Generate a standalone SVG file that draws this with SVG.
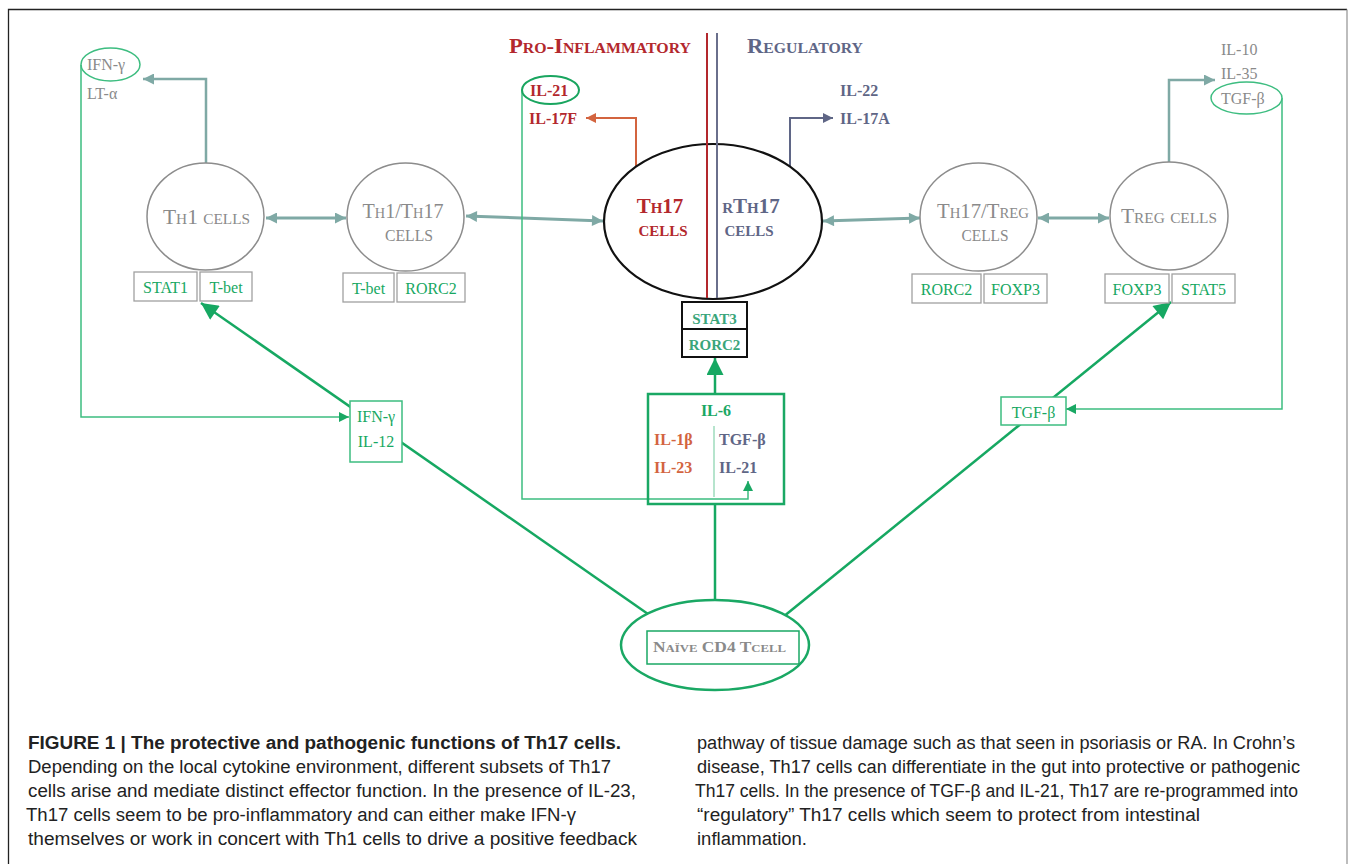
<svg xmlns="http://www.w3.org/2000/svg" width="1354" height="864" viewBox="0 0 1354 864">
<defs>
<style>
.bg{fill:#ffffff}
.cell{fill:#ffffff;stroke:#8c8c8c;stroke-width:1.5}
.celltxt{font-family:"Liberation Serif","DejaVu Serif",serif;fill:#8a8a8a;font-variant:small-caps;font-size:21px;text-anchor:middle}
.tf{fill:#ffffff;stroke:#a0a0a0;stroke-width:1.3}
.tftxt{font-family:"Liberation Serif","DejaVu Serif",serif;fill:#17a862;font-size:16px;text-anchor:middle}
.cyto{font-family:"Liberation Serif","DejaVu Serif",serif;fill:#8a8a8a;font-size:16px}
.bold{font-family:"Liberation Serif","DejaVu Serif",serif;font-weight:bold;font-size:16px}
.red{fill:#b3282d}
.orange{fill:#d3643f}
.blue{fill:#5f6686}
.green{fill:#1aa864}
.teal{stroke:#7fa9a5;fill:none}
.gthick{stroke:#16a862;stroke-width:2.5;fill:none}
.gthin{stroke:#3dbd80;stroke-width:1.5;fill:none}
.cap{font-family:"Liberation Sans","Arial",sans-serif;font-size:18px;fill:#222222}
</style>
<marker id="tealHead" viewBox="0 0 10 10" refX="10" refY="5" markerWidth="13" markerHeight="11" markerUnits="userSpaceOnUse" orient="auto-start-reverse"><path d="M0,0L10,5L0,10z" fill="#7fa9a5"/></marker>
<marker id="greenBig" viewBox="0 0 10 10" refX="10" refY="5" markerWidth="20" markerHeight="17" markerUnits="userSpaceOnUse" orient="auto"><path d="M0,0L10,5L0,10z" fill="#16a862"/></marker>
<marker id="greenSmall" viewBox="0 0 10 10" refX="10" refY="5" markerWidth="11" markerHeight="10" markerUnits="userSpaceOnUse" orient="auto"><path d="M0,0L10,5L0,10z" fill="#1aa864"/></marker>
<marker id="orangeHead" viewBox="0 0 10 10" refX="10" refY="5" markerWidth="12" markerHeight="10" markerUnits="userSpaceOnUse" orient="auto"><path d="M0,0L10,5L0,10z" fill="#d3643f"/></marker>
<marker id="blueHead" viewBox="0 0 10 10" refX="10" refY="5" markerWidth="12" markerHeight="10" markerUnits="userSpaceOnUse" orient="auto"><path d="M0,0L10,5L0,10z" fill="#5f6686"/></marker>
</defs>
<rect class="bg" x="0" y="0" width="1354" height="864"/>
<g id="frame">
<path d="M8.5,880V9.5H1347" fill="none" stroke="#222222" stroke-width="1.3"/>
<path d="M1347,9.5V880" fill="none" stroke="#9a9a9a" stroke-width="1.3"/>
</g>

<g id="connectors">
<line class="teal" x1="266" y1="218" x2="346" y2="218" stroke-width="3" marker-start="url(#tealHead)" marker-end="url(#tealHead)"/>
<line class="teal" x1="466" y1="216" x2="603" y2="221" stroke-width="3" marker-start="url(#tealHead)" marker-end="url(#tealHead)"/>
<line class="teal" x1="823" y1="221" x2="920" y2="218" stroke-width="3" marker-start="url(#tealHead)" marker-end="url(#tealHead)"/>
<line class="teal" x1="1038" y1="218" x2="1109" y2="218" stroke-width="3" marker-start="url(#tealHead)" marker-end="url(#tealHead)"/>
<path class="teal" d="M206,163V79H143" stroke-width="2.5" marker-end="url(#tealHead)"/>
<path class="teal" d="M1169,162V80H1215" stroke-width="2.5" marker-end="url(#tealHead)"/>
<path d="M636,167V118H586" fill="none" stroke="#d3643f" stroke-width="2" marker-end="url(#orangeHead)"/>
<path d="M790,167V118H833" fill="none" stroke="#5f6686" stroke-width="2" marker-end="url(#blueHead)"/>
<path class="gthin" d="M81,65V417H349" marker-end="url(#greenSmall)"/>
<path class="gthin" d="M1282,98V409H1066" marker-end="url(#greenSmall)"/>
<path class="gthin" d="M522,90V499H748V481" marker-end="url(#greenSmall)"/>
<line class="gthick" x1="648" y1="614" x2="201" y2="303" marker-end="url(#greenBig)"/>
<line class="gthick" x1="783" y1="617" x2="1171" y2="302" marker-end="url(#greenBig)"/>
<line class="gthick" x1="715" y1="600" x2="715" y2="504"/>
<line class="gthick" x1="715" y1="394" x2="715" y2="358" marker-end="url(#greenBig)"/>
</g>

<g id="headers">
<text x="509" y="53" class="bold red" style="font-variant:small-caps;font-size:20px" textLength="182" lengthAdjust="spacingAndGlyphs">Pro-Inflammatory</text>
<text x="747" y="53" class="bold blue" style="font-variant:small-caps;font-size:20px" textLength="116" lengthAdjust="spacingAndGlyphs">Regulatory</text>
</g>

<g id="th1">
<ellipse class="cell" cx="205.5" cy="216.5" rx="58.5" ry="53.5"/>
<text class="celltxt" x="206.5" y="224" textLength="87" lengthAdjust="spacingAndGlyphs">Th1 cells</text>
<rect class="tf" x="134" y="272" width="63" height="29"/>
<text class="tftxt" x="165.5" y="293">STAT1</text>
<rect class="tf" x="200" y="272" width="52" height="29"/>
<text class="tftxt" x="226" y="293">T-bet</text>
</g>

<g id="th1-cytokines">
<ellipse cx="110.5" cy="64.5" rx="29.5" ry="16.5" fill="none" stroke="#3dbd80" stroke-width="1.5"/>
<text class="cyto" x="87" y="70">IFN-γ</text>
<text class="cyto" x="87" y="99">LT-α</text>
</g>

<g id="th1th17">
<ellipse class="cell" cx="405.5" cy="217" rx="58.5" ry="54"/>
<text class="celltxt" x="403" y="218" textLength="81" lengthAdjust="spacingAndGlyphs">Th1/Th17</text>
<text class="celltxt" x="409" y="241" style="font-size:23px" textLength="48" lengthAdjust="spacingAndGlyphs">cells</text>
<rect class="tf" x="343" y="273" width="51" height="29"/>
<text class="tftxt" x="368.5" y="294">T-bet</text>
<rect class="tf" x="397" y="273" width="68" height="29"/>
<text class="tftxt" x="431" y="294">RORC2</text>
</g>

<g id="th17">
<ellipse cx="713" cy="221.5" rx="109" ry="77.5" fill="#ffffff" stroke="#111111" stroke-width="2.2"/>
<line x1="707" y1="33" x2="707" y2="298" stroke="#b3282d" stroke-width="2"/>
<line x1="717" y1="33" x2="717" y2="298" stroke="#6a6f8c" stroke-width="2"/>
<text class="bold red" x="660" y="213" text-anchor="middle" style="font-variant:small-caps;font-size:21px">Th17</text>
<text class="bold red" x="663" y="236" text-anchor="middle" style="font-variant:small-caps;font-size:21px">cells</text>
<text class="bold blue" x="751" y="213" text-anchor="middle" style="font-variant:small-caps;font-size:21px">rTh17</text>
<text class="bold blue" x="749" y="236" text-anchor="middle" style="font-variant:small-caps;font-size:21px">cells</text>
<rect x="682" y="302" width="65" height="55" fill="#ffffff" stroke="#111111" stroke-width="2"/>
<line x1="682" y1="329" x2="747" y2="329" stroke="#111111" stroke-width="2"/>
<text class="bold" x="714.5" y="324" text-anchor="middle" fill="#3aa57a" style="font-size:15px">STAT3</text>
<text class="bold" x="714.5" y="350" text-anchor="middle" fill="#3aa57a" style="font-size:15px">RORC2</text>
</g>

<g id="th17-cytokines">
<ellipse cx="550.5" cy="90" rx="28.5" ry="14" fill="none" stroke="#19a55f" stroke-width="2"/>
<text class="bold red" x="530" y="96">IL-21</text>
<text class="bold red" x="529" y="124">IL-17F</text>
<text class="bold blue" x="840" y="96">IL-22</text>
<text class="bold blue" x="840" y="124">IL-17A</text>
</g>

<g id="th17treg">
<ellipse class="cell" cx="978.5" cy="217" rx="58.5" ry="54"/>
<text class="celltxt" x="983" y="218" textLength="92" lengthAdjust="spacingAndGlyphs">Th17/Treg</text>
<text class="celltxt" x="985" y="241" style="font-size:23px" textLength="47" lengthAdjust="spacingAndGlyphs">cells</text>
<rect class="tf" x="912" y="274" width="69" height="29"/>
<text class="tftxt" x="946.5" y="295">RORC2</text>
<rect class="tf" x="984" y="274" width="63" height="29"/>
<text class="tftxt" x="1015.5" y="295">FOXP3</text>
</g>

<g id="treg">
<ellipse class="cell" cx="1169" cy="216" rx="59" ry="54"/>
<text class="celltxt" x="1169" y="223" textLength="96" lengthAdjust="spacingAndGlyphs">Treg cells</text>
<rect class="tf" x="1105" y="274" width="64" height="29"/>
<text class="tftxt" x="1137" y="295">FOXP3</text>
<rect class="tf" x="1172" y="274" width="63" height="29"/>
<text class="tftxt" x="1203.5" y="295">STAT5</text>
</g>

<g id="treg-cytokines">
<text class="cyto" x="1221" y="55">IL-10</text>
<text class="cyto" x="1221" y="79">IL-35</text>
<ellipse cx="1246.5" cy="98" rx="35.5" ry="16" fill="#ffffff" stroke="#3dbd80" stroke-width="1.5"/>
<text class="cyto" x="1221" y="104">TGF-β</text>
</g>

<g id="ifn-il12">
<rect x="350" y="401" width="52" height="61" fill="#ffffff" stroke="#3dbd80" stroke-width="1.5"/>
<text class="tftxt" x="376" y="422">IFN-γ</text>
<text class="tftxt" x="376" y="447">IL-12</text>
</g>

<g id="tgfb">
<rect x="1001" y="397" width="65" height="28" fill="#ffffff" stroke="#3dbd80" stroke-width="1.5"/>
<text class="tftxt" x="1033.5" y="418">TGF-β</text>
</g>

<g id="cytokine-box">
<rect x="648" y="394" width="136" height="110" fill="none" stroke="#1aa864" stroke-width="2.5"/>
<line x1="714" y1="426" x2="714" y2="497" stroke="#8fd6b2" stroke-width="1.3"/>
<text class="bold green" x="716" y="416" text-anchor="middle">IL-6</text>
<text class="bold orange" x="654" y="445">IL-1β</text>
<text class="bold orange" x="654" y="473">IL-23</text>
<text class="bold blue" x="719" y="445">TGF-β</text>
<text class="bold blue" x="719" y="473">IL-21</text>
</g>

<g id="naive">
<ellipse cx="715" cy="645" rx="94" ry="45" fill="#ffffff" stroke="#1aa864" stroke-width="2.5"/>
<rect x="647" y="631" width="152" height="33" fill="none" stroke="#1aa864" stroke-width="1.5"/>
<text class="bold" x="653" y="652" fill="#8a8a8a" style="font-variant:small-caps;font-size:15px" textLength="133" lengthAdjust="spacingAndGlyphs">Naïve CD4 Tcell</text>
</g>

<g id="caption">
<text class="cap" x="28" y="749" font-weight="bold" textLength="593" lengthAdjust="spacingAndGlyphs">FIGURE 1 | The protective and pathogenic functions of Th17 cells.</text>
<text class="cap" x="28" y="773" textLength="583" lengthAdjust="spacingAndGlyphs">Depending on the local cytokine environment, different subsets of Th17</text>
<text class="cap" x="28" y="797" textLength="608" lengthAdjust="spacingAndGlyphs">cells arise and mediate distinct effector function. In the presence of IL-23,</text>
<text class="cap" x="26" y="821" textLength="550" lengthAdjust="spacingAndGlyphs">Th17 cells seem to be pro-inflammatory and can either make IFN-γ</text>
<text class="cap" x="28" y="845" textLength="609" lengthAdjust="spacingAndGlyphs">themselves or work in concert with Th1 cells to drive a positive feedback</text>
<text class="cap" x="697" y="749" textLength="598" lengthAdjust="spacingAndGlyphs">pathway of tissue damage such as that seen in psoriasis or RA. In Crohn’s</text>
<text class="cap" x="697" y="773" textLength="603" lengthAdjust="spacingAndGlyphs">disease, Th17 cells can differentiate in the gut into protective or pathogenic</text>
<text class="cap" x="695" y="797" textLength="603" lengthAdjust="spacingAndGlyphs">Th17 cells. In the presence of TGF-β and IL-21, Th17 are re-programmed into</text>
<text class="cap" x="697" y="821" textLength="503" lengthAdjust="spacingAndGlyphs">“regulatory” Th17 cells which seem to protect from intestinal</text>
<text class="cap" x="697" y="845" textLength="110" lengthAdjust="spacingAndGlyphs">inflammation.</text>
</g>
</svg>
